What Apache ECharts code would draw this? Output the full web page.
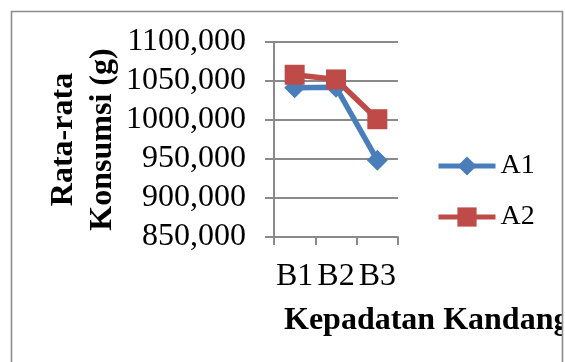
<!DOCTYPE html>
<html>
<head>
<meta charset="utf-8">
<script src="https://cdn.jsdelivr.net/npm/echarts@6/dist/echarts.min.js"></script>
<style>
html,body{margin:0;padding:0;background:#fff;}
#chart{width:565px;height:362px;}
</style>
</head>
<body>
<div id="chart"></div>
<script>
var categories = ['B1', 'B2', 'B3'];
var seriesNames = ['A1', 'A2'];
var valuesA1 = [1041.5, 1042, 948.5];
var valuesA2 = [1058, 1052, 1001];
var yMin = 850, yMax = 1100, yStep = 50;
var xTitle = 'Kepadatan Kandang';
var yTitle = 'Rata-rata\nKonsumsi (g)';

var font = 'Liberation Serif, Times New Roman, serif';
var gridColor = '#8a8a8a';
var chart = echarts.init(document.getElementById('chart'), null, {renderer: 'canvas'});
chart.setOption({
  animation: false,
  title: {
    text: xTitle,
    left: 279,
    top: 300,
    textStyle: {fontFamily: font, fontSize: 32, fontWeight: 'bold', color: '#000'}
  },
  grid: {left: 274, top: 42, width: 124, height: 195, containLabel: false},
  legend: {
    orient: 'vertical',
    left: 431,
    top: 147,
    itemWidth: 57,
    itemHeight: 24,
    itemGap: 23,
    lineStyle: {width: 5},
    textStyle: {fontFamily: font, fontSize: 28, color: '#000'},
    data: seriesNames
  },
  xAxis: {
    type: 'category',
    data: categories,
    boundaryGap: true,
    axisLine: {lineStyle: {color: gridColor, width: 2}},
    axisTick: {show: true, length: 8, lineStyle: {color: gridColor, width: 2}, alignWithLabel: false},
    axisLabel: {fontFamily: font, fontSize: 32, color: '#000', margin: 24, interval: 0, hideOverlap: false}
  },
  yAxis: {
    type: 'value',
    min: yMin, max: yMax, interval: yStep,
    name: yTitle,
    nameLocation: 'middle',
    nameGap: 147,
    nameRotate: 90,
    nameTextStyle: {fontFamily: font, fontSize: 32, fontWeight: 'bold', color: '#000', lineHeight: 39},
    axisLine: {show: true, lineStyle: {color: gridColor, width: 2}},
    axisTick: {show: true, length: 9, lineStyle: {color: gridColor, width: 2}},
    splitLine: {lineStyle: {color: gridColor, width: 2}},
    axisLabel: {
      fontFamily: font, fontSize: 32, color: '#000', margin: 28,
      formatter: function (v) { return v.toFixed(3).replace('.', ','); }
    }
  },
  series: [
    {
      name: seriesNames[0], type: 'line', data: valuesA1,
      symbol: 'diamond', symbolSize: 21,
      lineStyle: {color: '#4a7ebb', width: 5.5},
      itemStyle: {color: '#4a7ebb'}
    },
    {
      name: seriesNames[1], type: 'line', data: valuesA2,
      symbol: 'rect', symbolSize: 20,
      lineStyle: {color: '#be4b48', width: 5.5},
      itemStyle: {color: '#be4b48'}
    }
  ],
  graphic: [
    {type: 'rect', z: 100, shape: {x: 563, y: 0, width: 10, height: 362}, style: {fill: '#fff'}},
    {type: 'rect', z: 101, shape: {x: 11.5, y: 11.5, width: 551, height: 400}, style: {fill: null, stroke: '#8c8c8c', lineWidth: 1.6}}
  ]
});
</script>
</body>
</html>
